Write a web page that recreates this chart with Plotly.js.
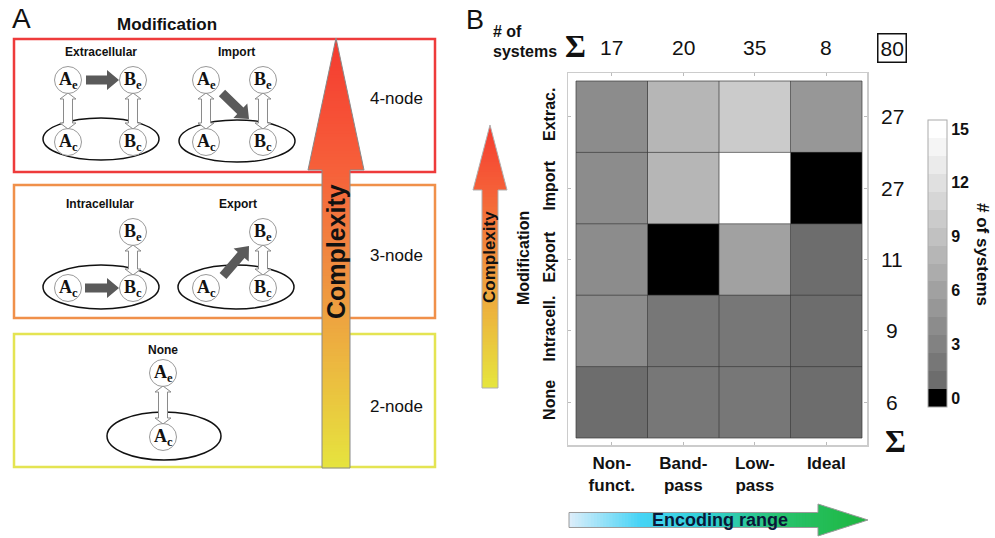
<!DOCTYPE html>
<html><head><meta charset="utf-8">
<script src="https://cdn.plot.ly/plotly-3.0.1.min.js"></script>
<style>html,body{margin:0;padding:0;background:#fff}#chart{width:995px;height:538px}</style>
</head><body><div id="chart"></div>
<script>
// ---------------- DATA ----------------
const encodings = ['Non-<br>funct.', 'Band-<br>pass', 'Low-<br>pass', 'Ideal'];
const modifications = ['Extrac.', 'Import', 'Export', 'Intracell.', 'None'];
const counts = [
  [4, 8, 10, 5],
  [4, 8, 15, 0],
  [4, 0, 6, 1],
  [4, 2, 2, 1],
  [1, 2, 2, 1]
];
const colorbarTicks = [0, 3, 6, 9, 12, 15];

const rowSums = counts.map(r => r.reduce((a, b) => a + b, 0));
const colSums = encodings.map((_, j) => counts.reduce((a, r) => a + r[j], 0));
const total = rowSums.reduce((a, b) => a + b, 0);

// ---------------- HELPERS ----------------
const W = 995, H = 538;
const X = p => p / W, Y = p => 1 - p / H;
const SANS = 'Liberation Sans, Arial, sans-serif';
const SERIF = 'Liberation Serif, Times New Roman, serif';

function gray(v) {
  if (v <= 0) return 'rgb(0,0,0)';
  const g = Math.min(255, Math.round(98 + 10.5 * v));
  return `rgb(${g},${g},${g})`;
}
const colorscale = [];
for (let v = 0; v <= 15; v++) {
  colorscale.push([v / 16, gray(v)]);
  colorscale.push([(v + 1) / 16, gray(v)]);
}

const shapes = [];
const annotations = [];

function ann(x, y, text, size, opts) {
  annotations.push(Object.assign({
    xref: 'paper', yref: 'paper', x: X(x), y: Y(y), text: text, showarrow: false,
    font: { family: SANS, size: size, color: '#111' }, xanchor: 'center', yanchor: 'middle'
  }, opts || {}));
}
function rect(x0, y0, x1, y1, color, w) {
  shapes.push({ type: 'rect', xref: 'paper', yref: 'paper', x0: X(x0), x1: X(x1), y0: Y(y1), y1: Y(y0),
    line: { color: color, width: w }, fillcolor: 'rgba(0,0,0,0)' });
}
function ellipse(cx, cy, rx, ry, fill, lc, lw) {
  shapes.push({ type: 'circle', xref: 'paper', yref: 'paper', x0: X(cx - rx), x1: X(cx + rx), y0: Y(cy + ry), y1: Y(cy - ry),
    line: { color: lc, width: lw }, fillcolor: fill });
}
function pathFromPts(pts) {
  return 'M ' + pts.map(p => X(p[0]).toFixed(5) + ' ' + Y(p[1]).toFixed(5)).join(' L ') + ' Z';
}
function poly(pts, fill, lc, lw) {
  shapes.push({ type: 'path', xref: 'paper', yref: 'paper', path: pathFromPts(pts),
    fillcolor: fill, line: { color: lc, width: lw } });
}
function arrow(x1, y1, x2, y2, sh, hh, hl, fill) {
  const L = Math.hypot(x2 - x1, y2 - y1), dx = (x2 - x1) / L, dy = (y2 - y1) / L;
  const nx = -dy, ny = dx;
  const bx = x2 - dx * hl, by = y2 - dy * hl;
  poly([[x1 + nx * sh, y1 + ny * sh], [bx + nx * sh, by + ny * sh], [bx + nx * hh, by + ny * hh], [x2, y2],
        [bx - nx * hh, by - ny * hh], [bx - nx * sh, by - ny * sh], [x1 - nx * sh, y1 - ny * sh]], fill, 'rgba(0,0,0,0)', 0);
}
function dblArrow(x, y1, y2) {
  const sh = 4.5, hh = 8, hl = 6;
  poly([[x, y1], [x + hh, y1 + hl], [x + sh, y1 + hl], [x + sh, y2 - hl], [x + hh, y2 - hl], [x, y2],
        [x - hh, y2 - hl], [x - sh, y2 - hl], [x - sh, y1 + hl], [x - hh, y1 + hl]], '#ffffff', '#8a8a8a', 1);
}
function node(cx, cy, letter, sub) {
  ellipse(cx, cy, 13.5, 13.5, '#ffffff', '#9a9a9a', 1);
  ann(cx, cy, `<b>${letter}<sub>${sub}</sub></b>`, 18, { font: { family: SERIF, size: 18, color: '#111' } });
}
function interp(stops, t) {
  if (t <= stops[0][0]) return `rgb(${stops[0][1].join(',')})`;
  for (let i = 1; i < stops.length; i++) {
    if (t <= stops[i][0]) {
      const a = stops[i - 1], b = stops[i], f = (t - a[0]) / (b[0] - a[0]);
      const c = a[1].map((v, k) => Math.round(v + (b[1][k] - v) * f));
      return `rgb(${c[0]},${c[1]},${c[2]})`;
    }
  }
  const c = stops[stops.length - 1][1];
  return `rgb(${c[0]},${c[1]},${c[2]})`;
}
// vertical gradient arrow pointing up
function vArrow(cx, tipY, baseY, botY, headHalf, shaftHalf, stops, nH, nS, outline) {
  const segs = [];
  for (let i = 0; i < nH; i++) segs.push([tipY + (baseY - tipY) * i / nH, tipY + (baseY - tipY) * (i + 1) / nH, baseY]);
  for (let i = 0; i < nS; i++) segs.push([baseY + (botY - baseY) * i / nS, baseY + (botY - baseY) * (i + 1) / nS, botY]);
  segs.forEach(s => {
    const a = s[0], b = Math.min(s[1] + 0.8, s[2]);
    const wa = (s[2] === baseY) ? headHalf * (a - tipY) / (baseY - tipY) : shaftHalf;
    const wb = (s[2] === baseY) ? headHalf * (b - tipY) / (baseY - tipY) : shaftHalf;
    poly([[cx - wa, a], [cx + wa, a], [cx + wb, b], [cx - wb, b]], interp(stops, (s[0] + s[1]) / 2), 'rgba(0,0,0,0)', 0);
  });
  if (outline) {
    shapes.push({ type: 'path', xref: 'paper', yref: 'paper', fillcolor: 'rgba(0,0,0,0)', line: { color: outline, width: 1 },
      path: pathFromPts([[cx, tipY], [cx + headHalf, baseY], [cx + shaftHalf, baseY], [cx + shaftHalf, botY],
        [cx - shaftHalf, botY], [cx - shaftHalf, baseY], [cx - headHalf, baseY]]) });
  }
}
// horizontal gradient arrow pointing right
function hArrow(cy, leftX, baseX, tipX, headHalf, shaftHalf, stops, nS, nH, outline) {
  const segs = [];
  for (let i = 0; i < nS; i++) segs.push([leftX + (baseX - leftX) * i / nS, leftX + (baseX - leftX) * (i + 1) / nS, 's']);
  for (let i = 0; i < nH; i++) segs.push([baseX + (tipX - baseX) * i / nH, baseX + (tipX - baseX) * (i + 1) / nH, 'h']);
  segs.forEach(s => {
    const a = s[0];
    const b = s[2] === 's' ? Math.min(s[1] + 0.8, baseX) : Math.min(s[1] + 0.8, tipX);
    const wa = s[2] === 's' ? shaftHalf : headHalf * (tipX - a) / (tipX - baseX);
    const wb = s[2] === 's' ? shaftHalf : headHalf * (tipX - b) / (tipX - baseX);
    poly([[a, cy - wa], [b, cy - wb], [b, cy + wb], [a, cy + wa]], interp(stops, (s[0] + s[1]) / 2), 'rgba(0,0,0,0)', 0);
  });
  if (outline) {
    shapes.push({ type: 'path', xref: 'paper', yref: 'paper', fillcolor: 'rgba(0,0,0,0)', line: { color: outline, width: 1 },
      path: pathFromPts([[leftX, cy - shaftHalf], [baseX, cy - shaftHalf], [baseX, cy - headHalf], [tipX, cy],
        [baseX, cy + headHalf], [baseX, cy + shaftHalf], [leftX, cy + shaftHalf]]) });
  }
}

// ---------------- PANEL A ----------------
ann(21, 19, 'A', 28);
ann(167, 25, '<b>Modification</b>', 17);
rect(14, 39, 435, 172, '#ee3b3b', 2.5);
rect(14, 185, 435, 318, '#f0904a', 2.5);
rect(14, 334, 435, 467, '#e4e452', 2.5);

// big complexity arrow
vArrow(336, 38, 170, 468, 28, 14,
  [[38, [245, 58, 48]], [170, [246, 96, 58]], [260, [240, 138, 64]], [360, [236, 182, 64]], [468, [230, 228, 62]]],
  40, 90, '#8a8a8a');
ann(336, 252, '<b>Complexity</b>', 25, { textangle: -90 });
ann(396, 98, '4-node', 17);
ann(396, 255, '3-node', 17);
ann(396, 406, '2-node', 17);

// Extracellular
ann(101, 52, '<b>Extracellular</b>', 12);
ellipse(101, 139, 58, 21, 'rgba(0,0,0,0)', '#111', 1.5);
node(68, 80, 'A', 'e'); node(133, 80, 'B', 'e');
node(68, 142, 'A', 'c'); node(133, 142, 'B', 'c');
dblArrow(68, 93, 129); dblArrow(133, 93, 129);
arrow(86, 80, 119, 80, 4.5, 10, 12, '#5a5a5a');
// Import
ann(236, 52, '<b>Import</b>', 12);
ellipse(237, 141, 58, 21, 'rgba(0,0,0,0)', '#111', 1.5);
node(206, 80, 'A', 'e'); node(263, 80, 'B', 'e');
node(206, 142, 'A', 'c'); node(263, 142, 'B', 'c');
dblArrow(206, 93, 129); dblArrow(263, 93, 129);
arrow(222, 93, 249, 119, 4.5, 10, 12, '#5a5a5a');
// Intracellular
ann(100, 204, '<b>Intracellular</b>', 12);
ellipse(101, 287, 58, 22, 'rgba(0,0,0,0)', '#111', 1.5);
node(133, 232, 'B', 'e');
node(68, 288, 'A', 'c'); node(133, 288, 'B', 'c');
dblArrow(133, 245, 275);
arrow(85, 288, 119, 288, 4.5, 10, 12, '#5a5a5a');
// Export
ann(238, 204, '<b>Export</b>', 12);
ellipse(236, 287, 58, 22, 'rgba(0,0,0,0)', '#111', 1.5);
node(263, 232, 'B', 'e');
node(206, 288, 'A', 'c'); node(263, 288, 'B', 'c');
dblArrow(263, 245, 275);
arrow(223, 276, 249, 246, 4.5, 10, 12, '#5a5a5a');
// None
ann(163, 350, '<b>None</b>', 12);
ellipse(164, 436, 57, 24, 'rgba(0,0,0,0)', '#111', 1.5);
node(163, 373, 'A', 'e');
node(163, 437, 'A', 'c');
dblArrow(163, 386, 424);

// ---------------- PANEL B decorations ----------------
ann(475, 20, 'B', 27);
ann(491, 32, '<b># of</b>', 16, { xanchor: 'left' });
ann(491, 51, '<b>systems</b>', 16, { xanchor: 'left' });
ann(575, 46, '<b>Σ</b>', 32, { font: { family: SERIF, size: 32, color: '#111' } });
ann(895, 441, '<b>Σ</b>', 32, { font: { family: SERIF, size: 32, color: '#111' } });
ann(892, 48, String(total), 21, { bordercolor: '#111', borderwidth: 1.5, borderpad: 2 });
colSums.forEach((s, j) => annotations.push({ xref: 'x', yref: 'paper', x: j, y: Y(48), text: String(s), showarrow: false,
  font: { family: SANS, size: 21, color: '#111' }, xanchor: 'center', yanchor: 'middle' }));
rowSums.forEach((s, i) => annotations.push({ xref: 'paper', yref: 'y', x: X(892), y: i, text: String(s), showarrow: false,
  font: { family: SANS, size: 21, color: '#111' }, xanchor: 'center', yanchor: 'middle' }));

vArrow(490, 125, 190, 388, 17, 8,
  [[125, [245, 60, 48]], [190, [245, 96, 56]], [290, [238, 165, 62]], [388, [230, 230, 62]]],
  25, 60, '#b0b0b0');
ann(490, 257, '<b>Complexity</b>', 17, { textangle: -90 });
ann(523, 258, '<b>Modification</b>', 16, { textangle: -90 });

hArrow(520, 569, 818, 868, 16, 7.5,
  [[569, [222, 238, 250]], [640, [70, 212, 246]], [705, [50, 208, 215]], [780, [40, 195, 110]], [868, [30, 182, 62]]],
  80, 20, '#9a9a9a');
ann(720, 520, '<b>Encoding range</b>', 18, { font: { family: SANS, size: 18, color: '#0a1838' } });

ann(983, 254, '<b># of systems</b>', 17, { textangle: 90 });

// grid lines between cells
for (let j = 0; j <= encodings.length; j++) {
  shapes.push({ type: 'line', xref: 'x', yref: 'y', x0: j - 0.5, x1: j - 0.5, y0: -0.5, y1: modifications.length - 0.5,
    line: { color: '#3a3a3a', width: 0.7 } });
}
for (let i = 0; i <= modifications.length; i++) {
  shapes.push({ type: 'line', xref: 'x', yref: 'y', x0: -0.5, x1: encodings.length - 0.5, y0: i - 0.5, y1: i - 0.5,
    line: { color: '#3a3a3a', width: 0.7 } });
}

// ---------------- HEATMAP ----------------
const trace = {
  type: 'heatmap',
  x: encodings,
  y: modifications,
  z: counts,
  zmin: -0.5, zmax: 15.5,
  colorscale: colorscale,
  hoverinfo: 'skip',
  colorbar: {
    thickness: 19, thicknessmode: 'pixels',
    len: 287 / H, lenmode: 'fraction',
    x: X(928), xanchor: 'left', xpad: 0,
    y: Y(263.5), yanchor: 'middle', ypad: 0,
    outlinecolor: '#aaaaaa', outlinewidth: 1,
    tickvals: colorbarTicks,
    ticktext: colorbarTicks.map(t => '<b>' + t + '</b>'),
    ticks: '', ticklabelpad: 6,
    tickfont: { family: SANS, size: 16, color: '#111' }
  }
};

const layout = {
  width: W, height: H,
  margin: { l: 0, r: 0, t: 0, b: 0 },
  paper_bgcolor: '#ffffff', plot_bgcolor: '#ffffff',
  showlegend: false,
  xaxis: {
    domain: [X(568), X(867)],
    range: [-0.5 - 8 / 71.5, 3.5 + 5 / 71.5],
    type: 'category',
    showline: true, mirror: 'ticks', linecolor: '#cccccc', linewidth: 1.5,
    ticks: 'inside', ticklen: 3, tickcolor: '#bbbbbb',
    showgrid: false, zeroline: false,
    tickvals: encodings, ticktext: encodings.map(t => '<b>' + t + '</b>'),
    tickfont: { family: SANS, size: 17, color: '#111' },
    ticklabelstandoff: 2, fixedrange: true
  },
  yaxis: {
    domain: [Y(445), Y(73)],
    range: [modifications.length - 0.5 + 7 / 71.4, -0.5 - 8 / 71.4],
    type: 'category',
    showline: true, mirror: 'ticks', linecolor: '#cccccc', linewidth: 1.5,
    ticks: 'inside', ticklen: 3, tickcolor: '#bbbbbb',
    showgrid: false, zeroline: false,
    tickvals: modifications, ticktext: modifications.map(t => '<b>' + t + '</b>'),
    tickangle: -90,
    tickfont: { family: SANS, size: 16, color: '#111' },
    ticklabelstandoff: 5, fixedrange: true
  },
  shapes: shapes,
  annotations: annotations
};

Plotly.newPlot('chart', [trace], layout, { staticPlot: true, displayModeBar: false });
</script>
</body></html>
